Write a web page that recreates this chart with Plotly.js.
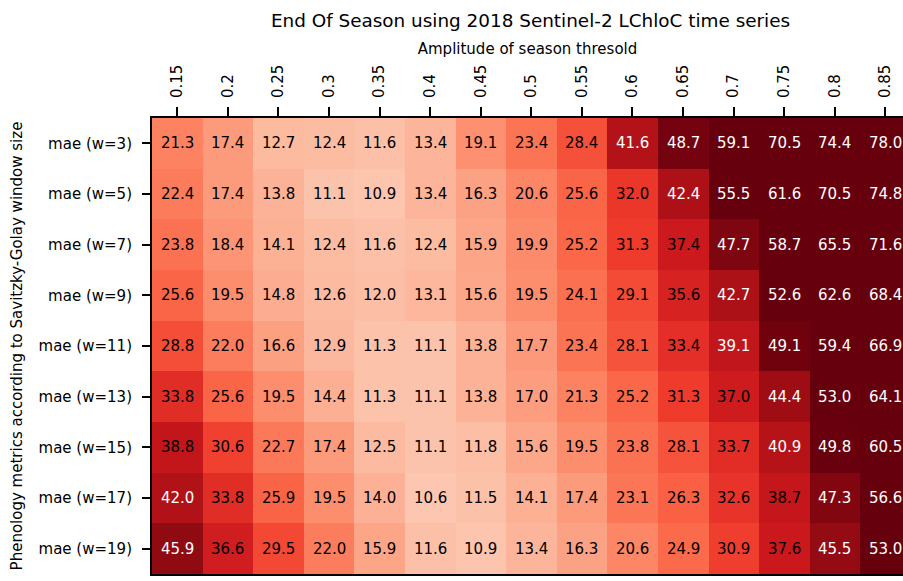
<!DOCTYPE html>
<html>
<head>
<meta charset="utf-8">
<script src="https://cdn.plot.ly/plotly-3.0.1.min.js"></script>
<style>html,body{margin:0;padding:0;background:#fff;} #chart{width:903px;height:581px;}</style>
</head>
<body>
<div id="chart"></div>
<script>
// Data
const thresholds = ["0.15","0.2","0.25","0.3","0.35","0.4","0.45","0.5","0.55","0.6","0.65","0.7","0.75","0.8","0.85"];
const windows = ["mae (w=3)","mae (w=5)","mae (w=7)","mae (w=9)","mae (w=11)","mae (w=13)","mae (w=15)","mae (w=17)","mae (w=19)"];
const maeW3  = [21.3,17.4,12.7,12.4,11.6,13.4,19.1,23.4,28.4,41.6,48.7,59.1,70.5,74.4,78.0];
const maeW5  = [22.4,17.4,13.8,11.1,10.9,13.4,16.3,20.6,25.6,32.0,42.4,55.5,61.6,70.5,74.8];
const maeW7  = [23.8,18.4,14.1,12.4,11.6,12.4,15.9,19.9,25.2,31.3,37.4,47.7,58.7,65.5,71.6];
const maeW9  = [25.6,19.5,14.8,12.6,12.0,13.1,15.6,19.5,24.1,29.1,35.6,42.7,52.6,62.6,68.4];
const maeW11 = [28.8,22.0,16.6,12.9,11.3,11.1,13.8,17.7,23.4,28.1,33.4,39.1,49.1,59.4,66.9];
const maeW13 = [33.8,25.6,19.5,14.4,11.3,11.1,13.8,17.0,21.3,25.2,31.3,37.0,44.4,53.0,64.1];
const maeW15 = [38.8,30.6,22.7,17.4,12.5,11.1,11.8,15.6,19.5,23.8,28.1,33.7,40.9,49.8,60.5];
const maeW17 = [42.0,33.8,25.9,19.5,14.0,10.6,11.5,14.1,17.4,23.1,26.3,32.6,38.7,47.3,56.6];
const maeW19 = [45.9,36.6,29.5,22.0,15.9,11.6,10.9,13.4,16.3,20.6,24.9,30.9,37.6,45.5,53.0];

const z = [maeW3, maeW5, maeW7, maeW9, maeW11, maeW13, maeW15, maeW17, maeW19];

// matplotlib "Reds"
const reds = ["#fff5f0","#fee0d2","#fcbba1","#fc9272","#fb6a4a","#ef3b2c","#cb181d","#a50f15","#67000d"];
const colorscale = reds.map((c, i) => [i / (reds.length - 1), c]);

let zmax = -Infinity;
z.forEach(r => r.forEach(v => { if (v > zmax) zmax = v; }));
const threshold = zmax / 2;

// cell labels, placed at category indices
const annotations = [];
z.forEach((row, i) => row.forEach((v, j) => {
  annotations.push({
    x: j, y: i, xref: 'x', yref: 'y',
    text: v.toFixed(1), showarrow: false,
    font: {family: 'DejaVu Sans', size: 15, color: v > threshold ? '#ffffff' : '#000000'}
  });
}));

const trace = {
  type: 'heatmap', x: thresholds, y: windows, z: z,
  colorscale: colorscale, zmin: 0, zmax: 50, showscale: false,
  xgap: 0, ygap: 0, hoverinfo: 'skip'
};

const layout = {
  width: 903, height: 581,
  margin: {l: 152, r: 0, t: 118, b: 7, pad: 0},
  paper_bgcolor: '#fff', plot_bgcolor: '#fff',
  font: {family: 'DejaVu Sans', size: 15, color: '#000'},
  title: {text: 'End Of Season using 2018 Sentinel-2 LChloC time series',
          font: {family: 'DejaVu Sans', size: 18.4, color: '#000'},
          xref: 'paper', x: 0.504, xanchor: 'center',
          yref: 'container', y: 1 - 21/581, yanchor: 'middle'},
  xaxis: {
    type: 'category', side: 'top', range: [-0.5, 14.35],
    ticks: 'outside', ticklen: 9, tickwidth: 2, tickcolor: '#000', ticklabelstandoff: 6,
    tickangle: -90, tickfont: {family: 'DejaVu Sans', size: 15, color: '#000'},
    showline: true, linecolor: '#000', linewidth: 2, mirror: true,
    showgrid: false, zeroline: false, fixedrange: true,
    title: {text: 'Amplitude of season thresold', standoff: 6,
            font: {family: 'DejaVu Sans', size: 15, color: '#000'}}
  },
  yaxis: {
    type: 'category', range: [8.5, -0.5],
    ticks: 'outside', ticklen: 8, tickwidth: 2, tickcolor: '#000', ticklabelstandoff: 7,
    tickfont: {family: 'DejaVu Sans', size: 15, color: '#000'},
    showline: true, linecolor: '#000', linewidth: 2, mirror: false,
    showgrid: false, zeroline: false, fixedrange: true,
    title: {text: 'Phenology metrics according to Savitzky-Golay window size', standoff: 12,
            font: {family: 'DejaVu Sans', size: 15, color: '#000'}}
  },
  annotations: annotations
};

Plotly.newPlot('chart', [trace], layout, {staticPlot: true, displayModeBar: false});
</script>
</body>
</html>
